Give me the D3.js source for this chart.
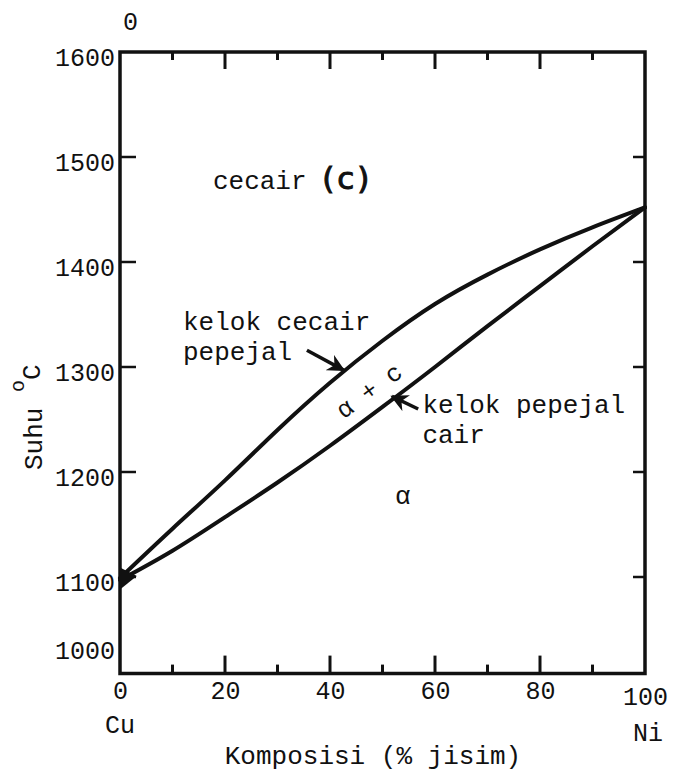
<!DOCTYPE html>
<html>
<head>
<meta charset="utf-8">
<script src="https://cdn.jsdelivr.net/npm/d3@7"></script>
<style>
  body { margin: 0; background: #fff; }
  svg text { font-family: "Liberation Mono", "Courier New", monospace; fill: #111; }
</style>
</head>
<body>
<svg id="chart"></svg>
<script>
// composition (% Ni by mass) and the two boundary curves
const composition = [0, 10, 20, 30, 40, 50, 60, 70, 80, 90, 100];
const liquidus = [1099, 1146, 1192, 1240, 1285, 1325, 1360, 1388, 1412, 1433, 1452];
const solidus  = [1097, 1125, 1157, 1190, 1225, 1262, 1300, 1339, 1377, 1415, 1452];

const xTickLabels = [0, 20, 40, 60, 80, 100];
const xMinorTicks = [10, 30, 50, 70, 90];
const xMajorTicks = [20, 40, 60, 80];
const yTickLabels = [1000, 1100, 1200, 1300, 1400, 1500, 1600];
const yInnerTicks = [1100, 1200, 1300, 1400, 1500];

// little black wedge where the curves meet Cu
const junctionBlob = [[0, 1109], [3.2, 1101], [0, 1088]];

// text labels (x in %, y in degC)
const regionLabels = [
  { text: "kelok cecair", x: 12, y: 1335 },
  { text: "pepejal", x: 12, y: 1307 },
  { text: "kelok pepejal", x: 57.6, y: 1256 },
  { text: "cair", x: 57.6, y: 1228 },
  { text: "α", x: 52.4, y: 1170 }
];
const arrows = [
  { from: [35.6, 1316], to: [42.6, 1297] },
  { from: [56.8, 1260], to: [51.8, 1272] }
];

const width = 673, height = 776;
const svg = d3.select("#chart").attr("width", width).attr("height", height);

const x = d3.scaleLinear().domain([0, 100]).range([120, 645]);
const y = d3.scaleLinear().domain([1000, 1600]).range([682, 52]);
const frameBottom = y(1008);

const ink = "#111";

// frame
svg.append("path")
  .attr("d", `M${x(0)},${y(1600)} H${x(100)} V${frameBottom} H${x(0)} Z`)
  .attr("fill", "none").attr("stroke", ink).attr("stroke-width", 3.5)
  .attr("stroke-linejoin", "miter");

// top ticks point down, bottom ticks point up
svg.selectAll(".topTick").data(xMinorTicks.concat(xMajorTicks)).join("line")
  .attr("x1", d => x(d)).attr("x2", d => x(d))
  .attr("y1", y(1600)).attr("y2", d => y(1600) + (xMajorTicks.includes(d) ? 17 : 8))
  .attr("stroke", ink).attr("stroke-width", 3);
svg.selectAll(".botTick").data(xMinorTicks.concat(xMajorTicks)).join("line")
  .attr("x1", d => x(d)).attr("x2", d => x(d))
  .attr("y1", frameBottom).attr("y2", d => frameBottom - (xMajorTicks.includes(d) ? 18 : 9))
  .attr("stroke", ink).attr("stroke-width", 3);

// left / right ticks
svg.selectAll(".leftTick").data(yInnerTicks).join("line")
  .attr("x1", x(0)).attr("x2", x(0) + 16)
  .attr("y1", d => y(d)).attr("y2", d => y(d))
  .attr("stroke", ink).attr("stroke-width", 2.5);
svg.selectAll(".rightTick").data(yInnerTicks).join("line")
  .attr("x1", x(100)).attr("x2", x(100) - 12)
  .attr("y1", d => y(d)).attr("y2", d => y(d))
  .attr("stroke", ink).attr("stroke-width", 2.5);

// y tick labels
const yAxis = svg.append("g")
  .call(d3.axisLeft(y).tickValues(yTickLabels).tickFormat(d3.format("d"))
    .tickSize(0).tickPadding(4))
  .attr("transform", `translate(${x(0) - 1},0)`);
yAxis.select(".domain").remove();
yAxis.selectAll("text")
  .style("font-size", "25px")
  .attr("dy", d => d === 1000 ? "-0.95em" : "0.55em");

// x tick labels
const xAxis = svg.append("g")
  .call(d3.axisBottom(x).tickValues(xTickLabels).tickFormat(d3.format("d"))
    .tickSize(0).tickPadding(18))
  .attr("transform", `translate(0,${frameBottom})`);
xAxis.select(".domain").remove();
xAxis.selectAll("text").style("font-size", "25px")
  .attr("dy", d => d === 100 ? "0.55em" : "0.3em");

// the stray 0 above the top-left corner
svg.append("text").attr("x", x(2)).attr("y", 30)
  .attr("text-anchor", "middle").style("font-size", "25px").text("0");

svg.append("text").attr("x", x(0)).attr("y", 733)
  .attr("text-anchor", "middle").style("font-size", "25px").text("Cu");
svg.append("text").attr("x", x(100) + 3).attr("y", 741)
  .attr("text-anchor", "middle").style("font-size", "25px").text("Ni");

svg.append("text").attr("x", 373).attr("y", 764)
  .attr("text-anchor", "middle").style("font-size", "26px")
  .text("Komposisi (% jisim)");

// y title, rotated
const yTitle = svg.append("text")
  .attr("transform", "translate(42,470) rotate(-90)")
  .style("font-size", "26px");
yTitle.append("tspan").text("Suhu ");
yTitle.append("tspan").attr("dy", -18).style("font-size", "20px").text("o");
yTitle.append("tspan").attr("dy", 16).text("C");

// curves
const line = d3.line()
  .x((d, i) => x(composition[i]))
  .y(d => y(d))
  .curve(d3.curveNatural);

[liquidus, solidus].forEach(series => {
  svg.append("path")
    .attr("d", line(series))
    .attr("fill", "none").attr("stroke", ink).attr("stroke-width", 4)
    .attr("stroke-linecap", "round");
});

svg.append("path")
  .attr("d", d3.line().x(d => x(d[0])).y(d => y(d[1]))(junctionBlob) + "Z")
  .attr("fill", ink);

// region labels
const cecair = svg.append("text").attr("x", x(17.7)).attr("y", y(1470))
  .style("font-size", "26px");
cecair.append("tspan").text("cecair ");
cecair.append("tspan")
  .style("font-family", "'DejaVu Sans', sans-serif")
  .style("font-size", "31px").attr("stroke", ink).attr("stroke-width", 1)
  .attr("letter-spacing", 3).text("(c)");

svg.selectAll(".lbl").data(regionLabels).join("text")
  .attr("x", d => x(d.x)).attr("y", d => y(d.y))
  .style("font-size", "26px").text(d => d.text);

svg.append("text")
  .attr("transform", `translate(${x(47.6)},${y(1276)}) rotate(-36)`)
  .attr("text-anchor", "middle").attr("dominant-baseline", "central")
  .style("font-size", "25px").text("α + c");

// arrows
svg.append("defs").append("marker")
  .attr("id", "head").attr("viewBox", "0 0 10 10")
  .attr("refX", 9).attr("refY", 5)
  .attr("markerWidth", 5).attr("markerHeight", 5)
  .attr("orient", "auto-start-reverse")
  .append("path").attr("d", "M0,0 L10,5 L0,10 L3,5 Z").attr("fill", ink);

svg.selectAll(".arrow").data(arrows).join("line")
  .attr("x1", d => x(d.from[0])).attr("y1", d => y(d.from[1]))
  .attr("x2", d => x(d.to[0])).attr("y2", d => y(d.to[1]))
  .attr("stroke", ink).attr("stroke-width", 3.5)
  .attr("marker-end", "url(#head)");
</script>
</body>
</html>
